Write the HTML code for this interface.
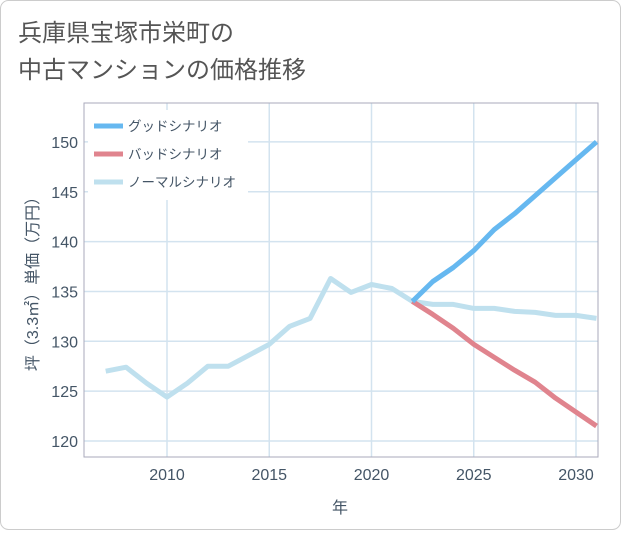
<!DOCTYPE html>
<html><head><meta charset="utf-8"><style>
body{margin:0;background:#fff;}
#c{width:621px;height:530px;position:relative;font-family:"Liberation Sans","Noto Sans CJK JP",sans-serif;}
</style></head><body>
<div id="c">
<svg width="621" height="530" xmlns="http://www.w3.org/2000/svg">
<rect x="0.5" y="0.5" width="620" height="529" rx="8" fill="#fff" stroke="#ccc"/>
<text x="18" y="41" font-size="24" fill="#555">兵庫県宝塚市栄町の</text>
<text x="18" y="78" font-size="24" fill="#555">中古マンションの価格推移</text>
<g id="grid"></g>
<rect x="84" y="103" width="514" height="354" fill="none" stroke="#aab"/>
<g id="axes"></g>
<g id="series"></g>
<g id="legend"></g>
<text x="340" y="513" font-size="16" fill="#456" text-anchor="middle">年</text>
<text transform="translate(38,280) rotate(-90)" font-size="16" fill="#456" text-anchor="middle">坪（3.3㎡）単価（万円）</text>
</svg>
</div>
<script>
const years=[2007,2008,2009,2010,2011,2012,2013,2014,2015,2016,2017,2018,2019,2020,2021,2022,2023,2024,2025,2026,2027,2028,2029,2030,2031];
const normal=[127,127.4,125.8,124.4,125.8,127.5,127.5,128.6,129.7,131.5,132.3,136.3,134.9,135.7,135.3,134.0,133.7,133.7,133.3,133.3,133.0,132.9,132.6,132.6,132.3];
const fYears=[2022,2023,2024,2025,2026,2027,2028,2029,2030,2031];
const good=[134,136,137.4,139.1,141.2,142.8,144.6,146.4,148.2,150];
const bad=[134,132.7,131.3,129.7,128.4,127.1,125.9,124.3,122.9,121.5];
const xTicks=[2010,2015,2020,2025,2030];
const yTicks=[120,125,130,135,140,145,150];
const NS='http://www.w3.org/2000/svg';
const X=y=>167+(y-2010)*20.45;
const Y=v=>441-(v-120)*9.97;
function mk(t,a,p){const e=document.createElementNS(NS,t);for(const k in a)e.setAttribute(k,a[k]);p.appendChild(e);return e;}
const grid=document.getElementById('grid'),axes=document.getElementById('axes');
xTicks.forEach(t=>{
const l=mk('line',{x1:X(t),x2:X(t),y1:103,y2:457,stroke:'#d3e3ef','stroke-width':1.5},grid);


const tx=mk('text',{x:X(t),y:480,'font-size':16,fill:'#456','text-anchor':'middle'},axes);
tx.textContent=t;


});
yTicks.forEach(t=>{
const l=mk('line',{x1:84,x2:598,y1:Y(t),y2:Y(t),stroke:'#d3e3ef','stroke-width':1.5},grid);


const tx=mk('text',{x:78,y:Y(t)+6,'font-size':16,fill:'#456','text-anchor':'end'},axes);
tx.textContent=t;


});
const ser=document.getElementById('series');
function line(xs,vs,col,name){
const d=xs.map((x,i)=>(i?'L':'M')+X(x).toFixed(1)+','+Y(vs[i]).toFixed(1)).join('');
const p=mk('path',{d:d,fill:'none',stroke:col,'stroke-width':5,'stroke-linejoin':'round'},ser);


}
const cl=document.createElementNS(NS,'clipPath');cl.id='cp';mk('rect',{x:84,y:103,width:514,height:354},cl);ser.appendChild(cl);ser.setAttribute('clip-path','url(#cp)');
line(years,normal,'#bfe0ee','normal-scenario-line');
line(fYears,bad,'#e0848e','bad-scenario-line');
line(fYears,good,'#66b8f0','good-scenario-line');
const lg=document.getElementById('legend');
const lb=mk('rect',{x:88,y:110,width:160,height:90,fill:'#fff'},lg);


[['グッドシナリオ','#66b8f0'],['バッドシナリオ','#e0848e'],['ノーマルシナリオ','#bfe0ee']].forEach((e,i)=>{
const y=126+i*28;
const r=mk('line',{x1:94,x2:123,y1:y,y2:y,stroke:e[1],'stroke-width':5},lg);


const t=mk('text',{x:128,y:y+5,'font-size':13.5,fill:'#456'},lg);
t.textContent=e[0];


});
</script>
</body></html>
